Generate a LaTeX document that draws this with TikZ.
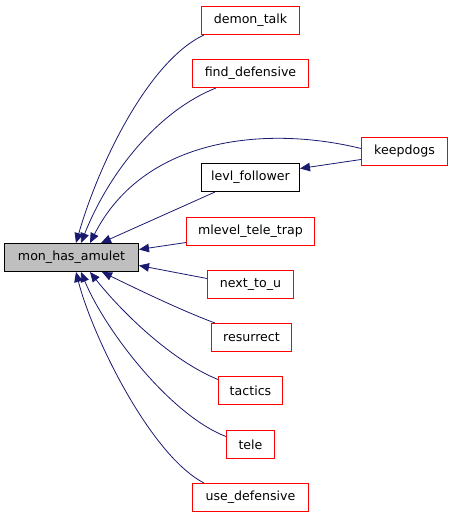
\documentclass[tikz,border=0pt]{standalone}
\usepackage{fontspec}
\setmainfont{DejaVu Sans}
\usetikzlibrary{arrows.meta,calc}
\definecolor{edgeblue}{HTML}{191970}
\definecolor{greyfill}{HTML}{BFBFBF}
\begin{document}
\begin{tikzpicture}[x=1pt,y=-1pt,
  box/.style={draw=red,line width=1pt,fill=white,rectangle,inner sep=0pt,minimum height=28pt,font=\fontsize{12.6}{15}\selectfont},
  mainbox/.style={box,draw=black,fill=greyfill},
  blackbox/.style={box,draw=black},
  edge/.style={draw=edgeblue,line width=0.8pt,-{Triangle[length=10pt,width=8.5pt]}}]
\useasboundingbox (0,0) rectangle (453,517);
\node[mainbox,minimum width=134pt] (mon) at (71.5,257.5) {mon\_has\_amulet};
\node[box,minimum width=98pt] (demon) at (250.5,20.5) {demon\_talk};
\node[box,minimum width=116pt] (find) at (250.5,73.5) {find\_defensive};
\node[box,minimum width=86pt] (keep) at (404.5,151.5) {keepdogs};
\node[blackbox,minimum width=98pt] (levl) at (250.5,177.5) {levl\_follower};
\node[box,minimum width=128pt] (mlevel) at (250.5,231.5) {mlevel\_tele\_trap};
\node[box,minimum width=86pt] (next) at (250.5,284.5) {next\_to\_u};
\node[box,minimum width=80pt] (res) at (251.5,337.5) {resurrect};
\node[box,minimum width=64pt] (tac) at (250.5,390.5) {tactics};
\node[box,minimum width=48pt] (tele) at (250.5,444.5) {tele};
\node[box,minimum width=116pt] (use) at (250.5,497.5) {use\_defensive};

\draw[edge] ($(demon.south west)+(3,0)$) .. controls (150,60) and (100,160) .. ($(mon.north west)+(72,0)$);
\draw[edge] ($(find.south west)+(24,0)$) .. controls (160,110) and (110,170) .. ($(mon.north west)+(77,0)$);
\draw[edge] ($(keep.west)+(0,-3)$) .. controls (270,126) and (145,135) .. ($(mon.north west)+(86,0)$);
\draw[edge] ($(levl.south west)+(14,0)$) -- ($(mon.north west)+(97,0)$);
\draw[edge] ($(mlevel.west)+(0,11)$) -- ($(mon.east)+(0,-8)$);
\draw[edge] ($(next.west)+(0,-6)$) -- ($(mon.east)+(0,8)$);
\draw[edge] ($(res.north west)+(4,0)$) .. controls (180,310) and (135,288) .. ($(mon.south west)+(98,0)$);
\draw[edge] ($(tac.west)+(0,-11)$) .. controls (170,360) and (120,310) .. ($(mon.south west)+(86,0)$);
\draw[edge] ($(tele.west)+(0,-8)$) .. controls (170,415) and (105,330) .. ($(mon.south west)+(77,0)$);
\draw[edge] ($(use.north west)+(12,0)$) .. controls (150,455) and (92,335) .. ($(mon.south west)+(72,0)$);
\draw[edge] ($(keep.west)+(0,8)$) -- ($(levl.east)+(0,-9)$);
\end{tikzpicture}
\end{document}
